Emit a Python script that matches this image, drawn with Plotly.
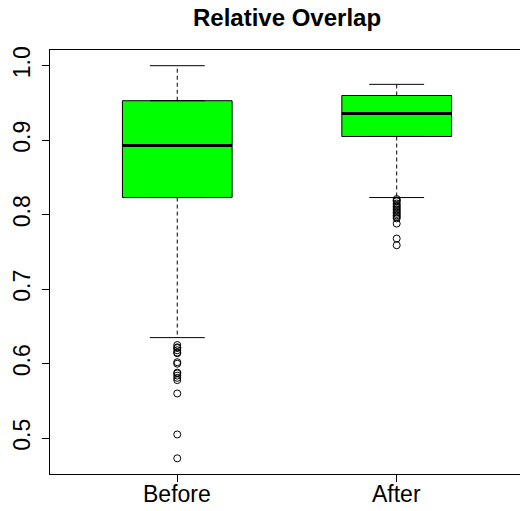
import plotly.graph_objects as go

# Summary statistics per group (boxplot five-number summaries)
groups = ["Before", "After"]
positions = [1, 2]
q1 = [0.823, 0.905]
median = [0.893, 0.936]
q3 = [0.953, 0.960]
lower_whisker = [0.635, 0.823]
upper_whisker = [1.000, 0.975]

# Points beyond the whiskers
outliers_before = [0.625, 0.622, 0.621, 0.618, 0.615, 0.614, 0.602, 0.600,
                   0.588, 0.587, 0.584, 0.581, 0.578, 0.560, 0.505, 0.473]
outliers_after = [0.821, 0.819, 0.818, 0.815, 0.813, 0.811, 0.809, 0.807,
                  0.805, 0.803, 0.801, 0.799, 0.797, 0.795, 0.788, 0.768, 0.759]
outliers = [outliers_before, outliers_after]

box_width = 0.5
cap_half = box_width / 4
fill = "#00FF00"
font_family = "Liberation Sans, Arial, sans-serif"

fig = go.Figure()

for i, pos in enumerate(positions):
    # dashed whiskers
    fig.add_trace(go.Scatter(
        x=[pos, pos, None, pos, pos],
        y=[q3[i], upper_whisker[i], None, q1[i], lower_whisker[i]],
        mode="lines", line=dict(color="black", width=1, dash="4px,3px"),
        hoverinfo="skip", showlegend=False))
    # whisker caps
    fig.add_trace(go.Scatter(
        x=[pos - cap_half, pos + cap_half, None, pos - cap_half, pos + cap_half],
        y=[upper_whisker[i], upper_whisker[i], None, lower_whisker[i], lower_whisker[i]],
        mode="lines", line=dict(color="black", width=1),
        hoverinfo="skip", showlegend=False))

# boxes
fig.add_trace(go.Box(
    x=positions, q1=q1, median=median, q3=q3,
    lowerfence=q1, upperfence=q3,
    width=box_width, fillcolor=fill,
    line=dict(color="black", width=1),
    boxpoints=False, showlegend=False))

for i, pos in enumerate(positions):
    # thick median bar
    fig.add_trace(go.Scatter(
        x=[pos - box_width / 2, pos + box_width / 2], y=[median[i], median[i]],
        mode="lines", line=dict(color="black", width=3),
        hoverinfo="skip", showlegend=False))
    # outlying points
    fig.add_trace(go.Scatter(
        x=[pos] * len(outliers[i]), y=outliers[i], mode="markers",
        marker=dict(symbol="circle-open", size=7, color="black", line=dict(width=1)),
        showlegend=False))

all_vals = [v for g in outliers for v in g] + lower_whisker + upper_whisker
lo, hi = min(all_vals), max(all_vals)
pad = 0.04 * (hi - lo)

# group labels placed just under the tick marks
for pos, name in zip(positions, groups):
    fig.add_annotation(x=pos, xref="x", y=-0.047, yref="paper",
                       text=name, showarrow=False, xanchor="center",
                       yanchor="middle", font=dict(size=23, family=font_family))

fig.update_layout(
    width=520, height=511,
    margin=dict(l=50, r=0, t=50, b=37, autoexpand=False),
    plot_bgcolor="white", paper_bgcolor="white",
    font=dict(family=font_family, color="black", size=23),
    title=dict(text="<b>Relative Overlap</b>", x=0.552, xref="container",
               xanchor="center", y=1 - 18 / 511, yanchor="middle",
               font=dict(size=24, family=font_family)),
    xaxis=dict(range=[0.42, 2.562], tickvals=positions, showticklabels=False,
               showgrid=False, zeroline=False, showline=True, linecolor="black",
               linewidth=1, mirror=True, ticks="outside", ticklen=7,
               tickcolor="black", automargin=False),
    yaxis=dict(range=[lo - pad, hi + pad], tickvals=[0.5, 0.6, 0.7, 0.8, 0.9, 1.0],
               ticktext=["0.5", "0.6", "0.7", "0.8", "0.9", "1.0"],
               tickangle=-90, showgrid=False, zeroline=False, showline=True,
               linecolor="black", linewidth=1, ticks="outside", ticklen=7,
               tickcolor="black", tickfont=dict(size=23), automargin=False,
               ticklabelstandoff=3),
)

fig.write_html("out.html")
